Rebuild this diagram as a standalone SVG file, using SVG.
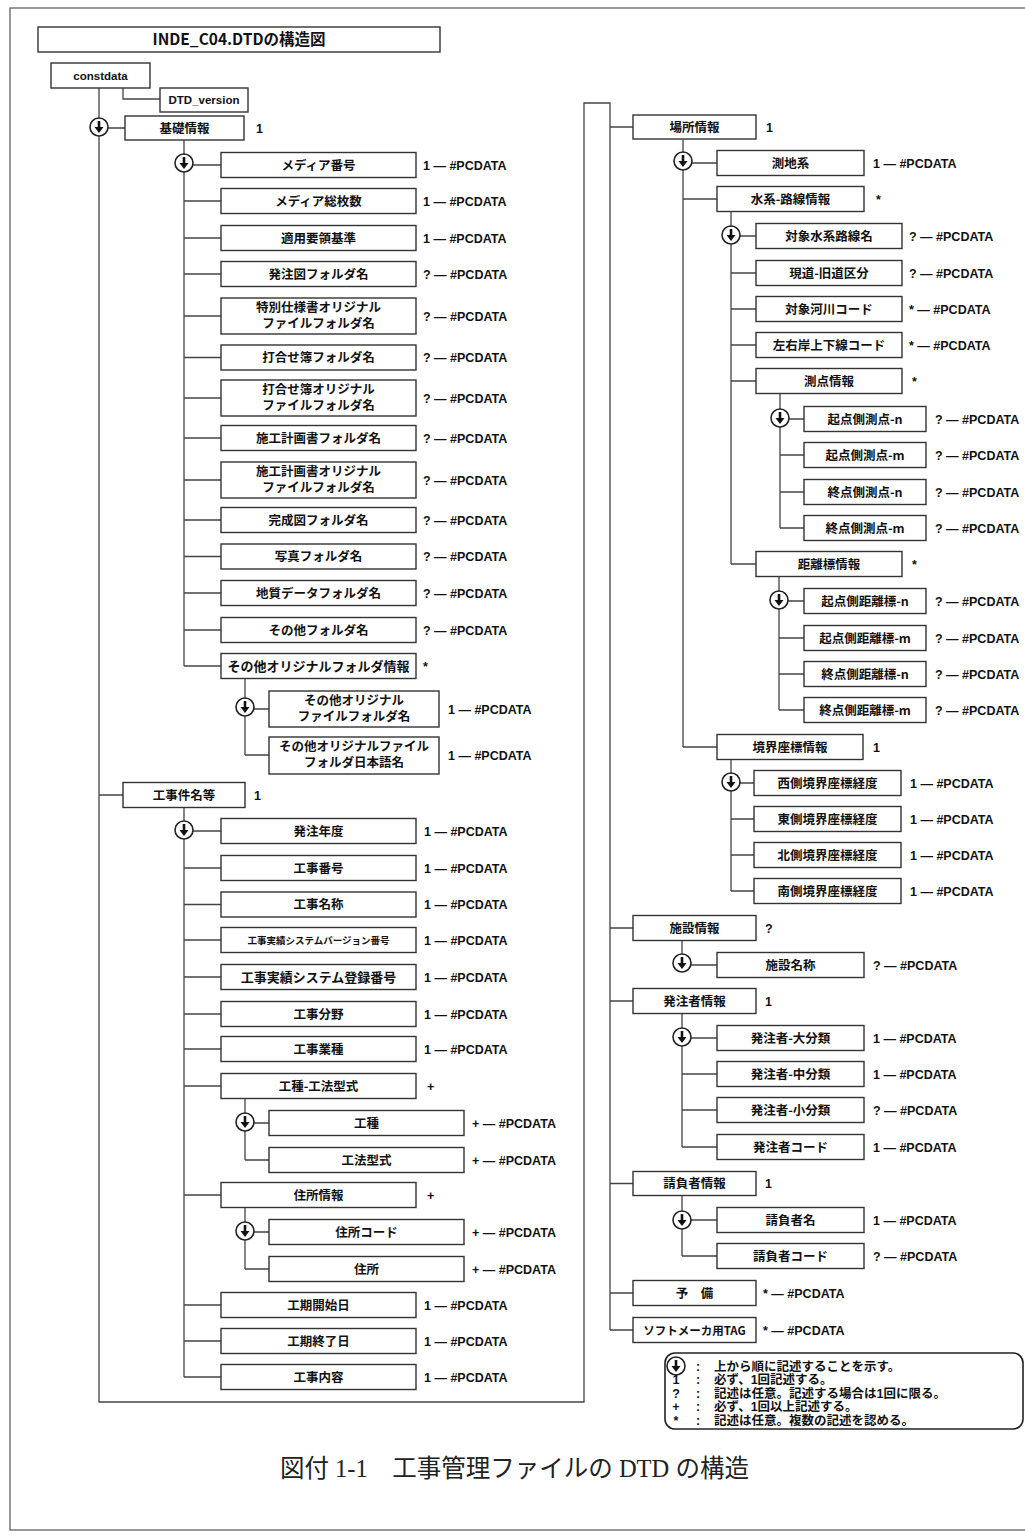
<svg xmlns="http://www.w3.org/2000/svg" xmlns:xlink="http://www.w3.org/1999/xlink" width="1025" height="1538" viewBox="0 0 1025 1538">
<style>
.b{fill:#fff;stroke:#333;stroke-width:1.4}
.t{font-family:"Noto Sans CJK JP","Liberation Sans",sans-serif;font-size:12.5px;font-weight:bold;text-anchor:middle;fill:#111}
.p{font-family:"Liberation Sans","Noto Sans CJK JP",sans-serif;font-size:12.5px;font-weight:bold;fill:#111}
.c{fill:none;stroke:#444;stroke-width:1.3}
.lg{font-family:"Liberation Sans","Noto Sans CJK JP",sans-serif;font-size:12.5px;font-weight:bold;fill:#111}
.cap{font-family:"Liberation Serif","Noto Sans CJK JP",serif;font-size:24.5px;fill:#222}
</style>
<defs>
<g id="seq">
<circle r="9" fill="#fff" stroke="#222" stroke-width="1.6"/>
<line x1="0" y1="-6" x2="0" y2="1" stroke="#111" stroke-width="2.6"/>
<polygon points="-4.5,0 4.5,0 0,6" fill="#111"/>
</g>
</defs>
<rect x="0" y="0" width="1025" height="1538" fill="#fff"/>
<rect x="10" y="8" width="1030" height="1522" fill="none" stroke="#555" stroke-width="1.2"/>

<g id="connectors">
<path class="c" d="M99,88 V1402 H584 V103 H610 V1330"/>
<path class="c" d="M123,88 V99 H160"/>
<path class="c" d="M99,128 H125 M99,795 H123"/>
<path class="c" d="M184,140 V666 M184,165 H221 M184,201 H221 M184,238 H221 M184,274 H221 M184,316 H221 M184,357.5 H221 M184,398 H221 M184,438 H221 M184,480 H221 M184,520 H221 M184,556.5 H221 M184,593 H221 M184,630 H221 M184,666 H221"/>
<path class="c" d="M245,678.5 V755 M245,709 H269 M245,755 H269"/>
<path class="c" d="M184,807.5 V1377 M184,831 H221 M184,868 H221 M184,904.5 H221 M184,940 H221 M184,977 H221 M184,1014 H221 M184,1049 H221 M184,1086 H221 M184,1195 H221 M184,1305 H221 M184,1341 H221 M184,1377 H221"/>
<path class="c" d="M245,1098.5 V1160 M245,1123 H269 M245,1160 H269"/>
<path class="c" d="M245,1207.5 V1269 M245,1232 H269 M245,1269 H269"/>
<path class="c" d="M610,127 H633 M610,928 H633 M610,1001 H633 M610,1183.5 H633 M610,1293 H633 M610,1330 H633"/>
<path class="c" d="M683,139.5 V747 M683,163 H717 M683,199 H717 M683,747 H717"/>
<path class="c" d="M731,211.5 V564 M731,236 H756 M731,273 H756 M731,309 H756 M731,345 H756 M731,381 H756 M731,564 H756"/>
<path class="c" d="M780,393.5 V528 M780,419 H804 M780,455 H804 M780,492 H804 M780,528 H804"/>
<path class="c" d="M779,576.5 V710 M779,601 H804 M779,638 H804 M779,674 H804 M779,710 H804"/>
<path class="c" d="M731,759.5 V891 M731,783 H754 M731,819 H754 M731,855 H754 M731,891 H754"/>
<path class="c" d="M682,940.5 V965 H717"/>
<path class="c" d="M682,1013.5 V1147 M682,1038 H717 M682,1074 H717 M682,1110 H717 M682,1147 H717"/>
<path class="c" d="M682,1196 V1256 M682,1220 H717 M682,1256 H717"/>
<use xlink:href="#seq" x="99" y="127"/>
<use xlink:href="#seq" x="184" y="163"/>
<use xlink:href="#seq" x="245" y="707"/>
<use xlink:href="#seq" x="184" y="830"/>
<use xlink:href="#seq" x="245" y="1122"/>
<use xlink:href="#seq" x="245" y="1231"/>
<use xlink:href="#seq" x="683" y="161"/>
<use xlink:href="#seq" x="731" y="235"/>
<use xlink:href="#seq" x="780" y="418"/>
<use xlink:href="#seq" x="779" y="600"/>
<use xlink:href="#seq" x="731" y="782"/>
<use xlink:href="#seq" x="682" y="963"/>
<use xlink:href="#seq" x="682" y="1037"/>
<use xlink:href="#seq" x="682" y="1220"/>
</g>

<g id="title"><rect class="b" x="38" y="27" width="402" height="25"/><text class="t" x="239" y="45" style="font-size:15.5px">INDE_C04.DTDの構造図</text></g>
<g id="n_constdata"><rect class="b" x="51" y="63" width="99" height="25"/><text class="p" x="100.5" y="79.5" text-anchor="middle" style="font-size:11.5px">constdata</text></g>
<g id="n_dtdversion"><rect class="b" x="160" y="88" width="88" height="24"/><text class="p" x="204" y="104" text-anchor="middle" style="font-size:11.5px">DTD_version</text></g>

<g id="n_kiso"><rect class="b" x="125" y="116" width="119" height="24"/><text class="t" x="184.5" y="132.5">基礎情報</text><text class="p" x="256" y="132.5">1</text></g>
<g id="n_k1"><rect class="b" x="221" y="152.5" width="195" height="25"/><text class="t" x="318.5" y="169.5">メディア番号</text><text class="p" x="423" y="169.5">1 — #PCDATA</text></g>
<g id="n_k2"><rect class="b" x="221" y="188.5" width="195" height="25"/><text class="t" x="318.5" y="205.5">メディア総枚数</text><text class="p" x="423" y="205.5">1 — #PCDATA</text></g>
<g id="n_k3"><rect class="b" x="221" y="225.5" width="195" height="25"/><text class="t" x="318.5" y="242.5">適用要領基準</text><text class="p" x="423" y="242.5">1 — #PCDATA</text></g>
<g id="n_k4"><rect class="b" x="221" y="261.5" width="195" height="25"/><text class="t" x="318.5" y="278.5">発注図フォルダ名</text><text class="p" x="423" y="278.5">? — #PCDATA</text></g>
<g id="n_k5"><rect class="b" x="221" y="298" width="195" height="36"/><text class="t" x="318.5" y="311.5">特別仕様書オリジナル</text><text class="t" x="318.5" y="327.5">ファイルフォルダ名</text><text class="p" x="423" y="320.5">? — #PCDATA</text></g>
<g id="n_k6"><rect class="b" x="221" y="345" width="195" height="25"/><text class="t" x="318.5" y="362">打合せ簿フォルダ名</text><text class="p" x="423" y="362">? — #PCDATA</text></g>
<g id="n_k7"><rect class="b" x="221" y="380" width="195" height="36"/><text class="t" x="318.5" y="393.5">打合せ簿オリジナル</text><text class="t" x="318.5" y="409.5">ファイルフォルダ名</text><text class="p" x="423" y="402.5">? — #PCDATA</text></g>
<g id="n_k8"><rect class="b" x="221" y="425.5" width="195" height="25"/><text class="t" x="318.5" y="442.5">施工計画書フォルダ名</text><text class="p" x="423" y="442.5">? — #PCDATA</text></g>
<g id="n_k9"><rect class="b" x="221" y="462" width="195" height="36"/><text class="t" x="318.5" y="475.5">施工計画書オリジナル</text><text class="t" x="318.5" y="491.5">ファイルフォルダ名</text><text class="p" x="423" y="484.5">? — #PCDATA</text></g>
<g id="n_k10"><rect class="b" x="221" y="507.5" width="195" height="25"/><text class="t" x="318.5" y="524.5">完成図フォルダ名</text><text class="p" x="423" y="524.5">? — #PCDATA</text></g>
<g id="n_k11"><rect class="b" x="221" y="544" width="195" height="25"/><text class="t" x="318.5" y="561">写真フォルダ名</text><text class="p" x="423" y="561">? — #PCDATA</text></g>
<g id="n_k12"><rect class="b" x="221" y="580.5" width="195" height="25"/><text class="t" x="318.5" y="597.5">地質データフォルダ名</text><text class="p" x="423" y="597.5">? — #PCDATA</text></g>
<g id="n_k13"><rect class="b" x="221" y="617.5" width="195" height="25"/><text class="t" x="318.5" y="634.5">その他フォルダ名</text><text class="p" x="423" y="634.5">? — #PCDATA</text></g>
<g id="n_k14"><rect class="b" x="221" y="653.5" width="195" height="25"/><text class="t" x="318.5" y="670.5" style="font-size:13px">その他オリジナルフォルダ情報</text><text class="p" x="423" y="670.5">*</text></g>
<g id="n_k14a"><rect class="b" x="269" y="691" width="170" height="36"/><text class="t" x="354" y="704.5">その他オリジナル</text><text class="t" x="354" y="720.5">ファイルフォルダ名</text><text class="p" x="448" y="713.5">1 — #PCDATA</text></g>
<g id="n_k14b"><rect class="b" x="269" y="737" width="170" height="37"/><text class="t" x="354" y="750.5">その他オリジナルファイル</text><text class="t" x="354" y="766.5">フォルダ日本語名</text><text class="p" x="448" y="759.5">1 — #PCDATA</text></g>

<g id="n_koji"><rect class="b" x="123" y="782.5" width="122" height="25"/><text class="t" x="184" y="799.5">工事件名等</text><text class="p" x="254" y="799.5">1</text></g>
<g id="n_j1"><rect class="b" x="221" y="818.5" width="195" height="25"/><text class="t" x="318.5" y="835.5">発注年度</text><text class="p" x="424" y="835.5">1 — #PCDATA</text></g>
<g id="n_j2"><rect class="b" x="221" y="855.5" width="195" height="25"/><text class="t" x="318.5" y="872.5">工事番号</text><text class="p" x="424" y="872.5">1 — #PCDATA</text></g>
<g id="n_j3"><rect class="b" x="221" y="892" width="195" height="25"/><text class="t" x="318.5" y="909">工事名称</text><text class="p" x="424" y="909">1 — #PCDATA</text></g>
<g id="n_j4"><rect class="b" x="221" y="927.5" width="195" height="25"/><text class="t" x="318.5" y="943.5" style="font-size:9.5px">工事実績システムバージョン番号</text><text class="p" x="424" y="944.5">1 — #PCDATA</text></g>
<g id="n_j5"><rect class="b" x="221" y="964.5" width="195" height="25"/><text class="t" x="318.5" y="981.5" style="font-size:13px">工事実績システム登録番号</text><text class="p" x="424" y="981.5">1 — #PCDATA</text></g>
<g id="n_j6"><rect class="b" x="221" y="1001.5" width="195" height="25"/><text class="t" x="318.5" y="1018.5">工事分野</text><text class="p" x="424" y="1018.5">1 — #PCDATA</text></g>
<g id="n_j7"><rect class="b" x="221" y="1036.5" width="195" height="25"/><text class="t" x="318.5" y="1053.5">工事業種</text><text class="p" x="424" y="1053.5">1 — #PCDATA</text></g>
<g id="n_j8"><rect class="b" x="221" y="1073.5" width="195" height="25"/><text class="t" x="318.5" y="1090.5">工種-工法型式</text><text class="p" x="427" y="1090.5">+</text></g>
<g id="n_j8a"><rect class="b" x="269" y="1110.5" width="195" height="25"/><text class="t" x="366.5" y="1127.5">工種</text><text class="p" x="472" y="1127.5">+ — #PCDATA</text></g>
<g id="n_j8b"><rect class="b" x="269" y="1147.5" width="195" height="25"/><text class="t" x="366.5" y="1164.5">工法型式</text><text class="p" x="472" y="1164.5">+ — #PCDATA</text></g>
<g id="n_j9"><rect class="b" x="221" y="1182.5" width="195" height="25"/><text class="t" x="318.5" y="1199.5">住所情報</text><text class="p" x="427" y="1199.5">+</text></g>
<g id="n_j9a"><rect class="b" x="269" y="1219.5" width="195" height="25"/><text class="t" x="366.5" y="1236.5">住所コード</text><text class="p" x="472" y="1236.5">+ — #PCDATA</text></g>
<g id="n_j9b"><rect class="b" x="269" y="1256.5" width="195" height="25"/><text class="t" x="366.5" y="1273.5">住所</text><text class="p" x="472" y="1273.5">+ — #PCDATA</text></g>
<g id="n_j10"><rect class="b" x="221" y="1292.5" width="195" height="25"/><text class="t" x="318.5" y="1309.5">工期開始日</text><text class="p" x="424" y="1309.5">1 — #PCDATA</text></g>
<g id="n_j11"><rect class="b" x="221" y="1328.5" width="195" height="25"/><text class="t" x="318.5" y="1345.5">工期終了日</text><text class="p" x="424" y="1345.5">1 — #PCDATA</text></g>
<g id="n_j12"><rect class="b" x="221" y="1364.5" width="195" height="25"/><text class="t" x="318.5" y="1381.5">工事内容</text><text class="p" x="424" y="1381.5">1 — #PCDATA</text></g>

<g id="n_basho"><rect class="b" x="633" y="115" width="123" height="24"/><text class="t" x="694.5" y="131.5">場所情報</text><text class="p" x="766" y="131.5">1</text></g>
<g id="n_b1"><rect class="b" x="717" y="150.5" width="147" height="25"/><text class="t" x="790.5" y="167.5">測地系</text><text class="p" x="873" y="167.5">1 — #PCDATA</text></g>
<g id="n_b2"><rect class="b" x="717" y="186.5" width="147" height="25"/><text class="t" x="790.5" y="203.5">水系-路線情報</text><text class="p" x="876" y="203.5">*</text></g>
<g id="n_b2a"><rect class="b" x="756" y="223.5" width="146" height="25"/><text class="t" x="829" y="240.5">対象水系路線名</text><text class="p" x="909" y="240.5">? — #PCDATA</text></g>
<g id="n_b2b"><rect class="b" x="756" y="260.5" width="146" height="25"/><text class="t" x="829" y="277.5">現道-旧道区分</text><text class="p" x="909" y="277.5">? — #PCDATA</text></g>
<g id="n_b2c"><rect class="b" x="756" y="296.5" width="146" height="25"/><text class="t" x="829" y="313.5">対象河川コード</text><text class="p" x="909" y="313.5">* — #PCDATA</text></g>
<g id="n_b2d"><rect class="b" x="756" y="332.5" width="146" height="25"/><text class="t" x="829" y="349.5">左右岸上下線コード</text><text class="p" x="909" y="349.5">* — #PCDATA</text></g>
<g id="n_b2e"><rect class="b" x="756" y="368.5" width="146" height="25"/><text class="t" x="829" y="385.5">測点情報</text><text class="p" x="912" y="385.5">*</text></g>
<g id="n_s1"><rect class="b" x="804" y="406.5" width="122" height="25"/><text class="t" x="865" y="423.5">起点側測点-n</text><text class="p" x="935" y="423.5">? — #PCDATA</text></g>
<g id="n_s2"><rect class="b" x="804" y="442.5" width="122" height="25"/><text class="t" x="865" y="459.5">起点側測点-m</text><text class="p" x="935" y="459.5">? — #PCDATA</text></g>
<g id="n_s3"><rect class="b" x="804" y="479.5" width="122" height="25"/><text class="t" x="865" y="496.5">終点側測点-n</text><text class="p" x="935" y="496.5">? — #PCDATA</text></g>
<g id="n_s4"><rect class="b" x="804" y="515.5" width="122" height="25"/><text class="t" x="865" y="532.5">終点側測点-m</text><text class="p" x="935" y="532.5">? — #PCDATA</text></g>
<g id="n_b2f"><rect class="b" x="756" y="551.5" width="146" height="25"/><text class="t" x="829" y="568.5">距離標情報</text><text class="p" x="912" y="568.5">*</text></g>
<g id="n_d1"><rect class="b" x="804" y="588.5" width="122" height="25"/><text class="t" x="865" y="605.5">起点側距離標-n</text><text class="p" x="935" y="605.5">? — #PCDATA</text></g>
<g id="n_d2"><rect class="b" x="804" y="625.5" width="122" height="25"/><text class="t" x="865" y="642.5">起点側距離標-m</text><text class="p" x="935" y="642.5">? — #PCDATA</text></g>
<g id="n_d3"><rect class="b" x="804" y="661.5" width="122" height="25"/><text class="t" x="865" y="678.5">終点側距離標-n</text><text class="p" x="935" y="678.5">? — #PCDATA</text></g>
<g id="n_d4"><rect class="b" x="804" y="697.5" width="122" height="25"/><text class="t" x="865" y="714.5">終点側距離標-m</text><text class="p" x="935" y="714.5">? — #PCDATA</text></g>
<g id="n_b3"><rect class="b" x="717" y="734.5" width="146" height="25"/><text class="t" x="790" y="751.5">境界座標情報</text><text class="p" x="873" y="751.5">1</text></g>
<g id="n_e1"><rect class="b" x="754" y="770.5" width="147" height="25"/><text class="t" x="827.5" y="787.5">西側境界座標経度</text><text class="p" x="910" y="787.5">1 — #PCDATA</text></g>
<g id="n_e2"><rect class="b" x="754" y="806.5" width="147" height="25"/><text class="t" x="827.5" y="823.5">東側境界座標経度</text><text class="p" x="910" y="823.5">1 — #PCDATA</text></g>
<g id="n_e3"><rect class="b" x="754" y="842.5" width="147" height="25"/><text class="t" x="827.5" y="859.5">北側境界座標経度</text><text class="p" x="910" y="859.5">1 — #PCDATA</text></g>
<g id="n_e4"><rect class="b" x="754" y="878.5" width="147" height="25"/><text class="t" x="827.5" y="895.5">南側境界座標経度</text><text class="p" x="910" y="895.5">1 — #PCDATA</text></g>

<g id="n_shisetsu"><rect class="b" x="633" y="915.5" width="123" height="25"/><text class="t" x="694.5" y="932.5">施設情報</text><text class="p" x="765" y="932.5">?</text></g>
<g id="n_f1"><rect class="b" x="717" y="952.5" width="147" height="25"/><text class="t" x="790.5" y="969.5">施設名称</text><text class="p" x="873" y="969.5">? — #PCDATA</text></g>
<g id="n_hacchu"><rect class="b" x="633" y="988.5" width="123" height="25"/><text class="t" x="694.5" y="1005.5">発注者情報</text><text class="p" x="765" y="1005.5">1</text></g>
<g id="n_h1"><rect class="b" x="717" y="1025.5" width="147" height="25"/><text class="t" x="790.5" y="1042.5">発注者-大分類</text><text class="p" x="873" y="1042.5">1 — #PCDATA</text></g>
<g id="n_h2"><rect class="b" x="717" y="1061.5" width="147" height="25"/><text class="t" x="790.5" y="1078.5">発注者-中分類</text><text class="p" x="873" y="1078.5">1 — #PCDATA</text></g>
<g id="n_h3"><rect class="b" x="717" y="1097.5" width="147" height="25"/><text class="t" x="790.5" y="1114.5">発注者-小分類</text><text class="p" x="873" y="1114.5">? — #PCDATA</text></g>
<g id="n_h4"><rect class="b" x="717" y="1134.5" width="147" height="25"/><text class="t" x="790.5" y="1151.5">発注者コード</text><text class="p" x="873" y="1151.5">1 — #PCDATA</text></g>
<g id="n_ukeoi"><rect class="b" x="633" y="1171.5" width="123" height="24"/><text class="t" x="694.5" y="1188">請負者情報</text><text class="p" x="765" y="1188">1</text></g>
<g id="n_u1"><rect class="b" x="717" y="1207.5" width="147" height="25"/><text class="t" x="790.5" y="1224.5">請負者名</text><text class="p" x="873" y="1224.5">1 — #PCDATA</text></g>
<g id="n_u2"><rect class="b" x="717" y="1243.5" width="147" height="25"/><text class="t" x="790.5" y="1260.5">請負者コード</text><text class="p" x="873" y="1260.5">? — #PCDATA</text></g>
<g id="n_yobi"><rect class="b" x="633" y="1280.5" width="123" height="25"/><text class="t" x="694.5" y="1297.5">予　備</text><text class="p" x="763" y="1297.5">* — #PCDATA</text></g>
<g id="n_soft"><rect class="b" x="633" y="1317.5" width="123" height="25"/><text class="t" x="694.5" y="1334.5" style="font-size:11.5px">ソフトメーカ用TAG</text><text class="p" x="763" y="1334.5">* — #PCDATA</text></g>

<g id="legend">
<rect x="665" y="1353" width="358" height="76" rx="10" fill="#fff" stroke="#222" stroke-width="1.6"/>
<use xlink:href="#seq" x="676" y="1366"/>
<text class="lg" x="676" y="1384" text-anchor="middle">1</text>
<text class="lg" x="676" y="1397.5" text-anchor="middle">?</text>
<text class="lg" x="676" y="1411" text-anchor="middle">+</text>
<text class="lg" x="676" y="1424.5" text-anchor="middle">*</text>
<text class="lg" x="696" y="1370.5">:</text>
<text class="lg" x="696" y="1384">:</text>
<text class="lg" x="696" y="1397.5">:</text>
<text class="lg" x="696" y="1411">:</text>
<text class="lg" x="696" y="1424.5">:</text>
<text class="lg" x="714" y="1370.5">上から順に記述することを示す。</text>
<text class="lg" x="714" y="1384">必ず、1回記述する。</text>
<text class="lg" x="714" y="1397.5">記述は任意。記述する場合は1回に限る。</text>
<text class="lg" x="714" y="1411">必ず、1回以上記述する。</text>
<text class="lg" x="714" y="1424.5">記述は任意。複数の記述を認める。</text>
</g>
<text class="cap" x="280" y="1477">図付 1-1　工事管理ファイルの DTD の構造</text>
</svg>
